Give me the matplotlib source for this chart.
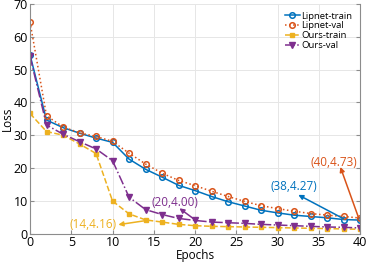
import matplotlib.pyplot as plt

epochs = list(range(0, 41, 2))
lipnet_train = [54.5, 34.6, 32.3, 30.6, 29.1, 27.8, 22.7, 19.6, 17.2, 14.7, 13.1,
                11.3, 9.7, 8.4, 7.1, 6.3, 5.6, 5.2, 4.8, 4.27, 4.1]
lipnet_val = [64.5, 35.9, 32.5, 30.7, 29.6, 28.1, 24.5, 21.2, 18.4, 16.2, 14.6,
              12.9, 11.3, 9.8, 8.5, 7.6, 6.8, 6.1, 5.6, 5.2, 4.73]
ours_train = [36.6, 31.1, 30.0, 27.3, 24.4, 9.9, 6.0, 4.16, 3.5, 2.8, 2.4,
              2.2, 2.1, 2.0, 1.9, 1.8, 1.7, 1.6, 1.5, 1.4, 1.3]
ours_val = [54.0, 33.1, 30.3, 28.0, 25.8, 22.2, 11.1, 7.3, 5.8, 4.6, 4.0,
            3.5, 3.3, 3.1, 2.8, 2.6, 2.4, 2.2, 2.0, 1.9, 1.7]

c_blue = '#0072BD'
c_orange = '#D95319'
c_yellow = '#EDB120'
c_purple = '#7E2F8E'

plt.rcParams['font.family'] = ['Open Sans', 'DejaVu Sans']

fig = plt.figure(figsize=(3.66, 2.63), dpi=100)
ax = fig.add_axes([0.082, 0.112, 0.902, 0.873])

ax.plot(epochs, lipnet_train, '-', color=c_blue, lw=1.1, marker='o', ms=4,
        mfc='none', mew=1.1, label='Lipnet-train')
ax.plot(epochs, lipnet_val, ':', color=c_orange, lw=1.1, marker='o', ms=4,
        mfc='none', mew=1.1, label='Lipnet-val')
ax.plot(epochs, ours_train, '--', color=c_yellow, lw=1.1, marker='s', ms=2.5,
        label='Ours-train')
ax.plot(epochs, ours_val, '-.', color=c_purple, lw=1.1, marker='v', ms=4,
        label='Ours-val')

# labels with arrows pointing from the point to the label
notes = [
    ('(14,4.16)', (7.6, 2.8), (10.7, 2.7), (13.9, 3.9), c_yellow),
    ('(20,4.00)', (17.5, 9.6), (18.1, 7.7), (20.2, 3.8), c_purple),
    ('(38,4.27)', (32.0, 14.2), (32.5, 11.8), (38.0, 4.5), c_blue),
    ('(40,4.73)', (36.8, 21.8), (37.6, 20.3), (39.8, 4.9), c_orange),
]
for txt, pos, head, tail, col in notes:
    ax.text(pos[0], pos[1], txt, color=col, fontsize=8.5, ha='center', va='center')
    ax.annotate('', xy=head, xytext=tail,
                arrowprops=dict(arrowstyle='-|>', color=col, lw=1.1,
                                mutation_scale=7, shrinkA=0, shrinkB=0))

ax.set_xlim(0, 40)
ax.set_ylim(0, 70)
ax.set_xticks(range(0, 41, 5))
ax.set_yticks(range(0, 71, 10))
ax.grid(True, color='#e6e6e6', lw=0.7)
ax.set_axisbelow(True)
for s in ['left', 'bottom', 'right']:
    ax.spines[s].set_color('#8c8c8c')
    ax.spines[s].set_linewidth(0.8)
ax.spines['top'].set_visible(False)
ax.tick_params(direction='in', length=3, color='#8c8c8c', labelsize=9,
               pad=1.5, right=True, top=False)
ax.set_xlabel('Epochs', fontsize=8.5, labelpad=0)
ax.set_ylabel('Loss', fontsize=8.5, labelpad=0)

ax.legend(loc='upper right', frameon=False, fontsize=6.8, handlelength=1.6,
          handletextpad=0.2, labelspacing=0.1, borderaxespad=0.4)

fig.savefig('out.png', dpi=100)
